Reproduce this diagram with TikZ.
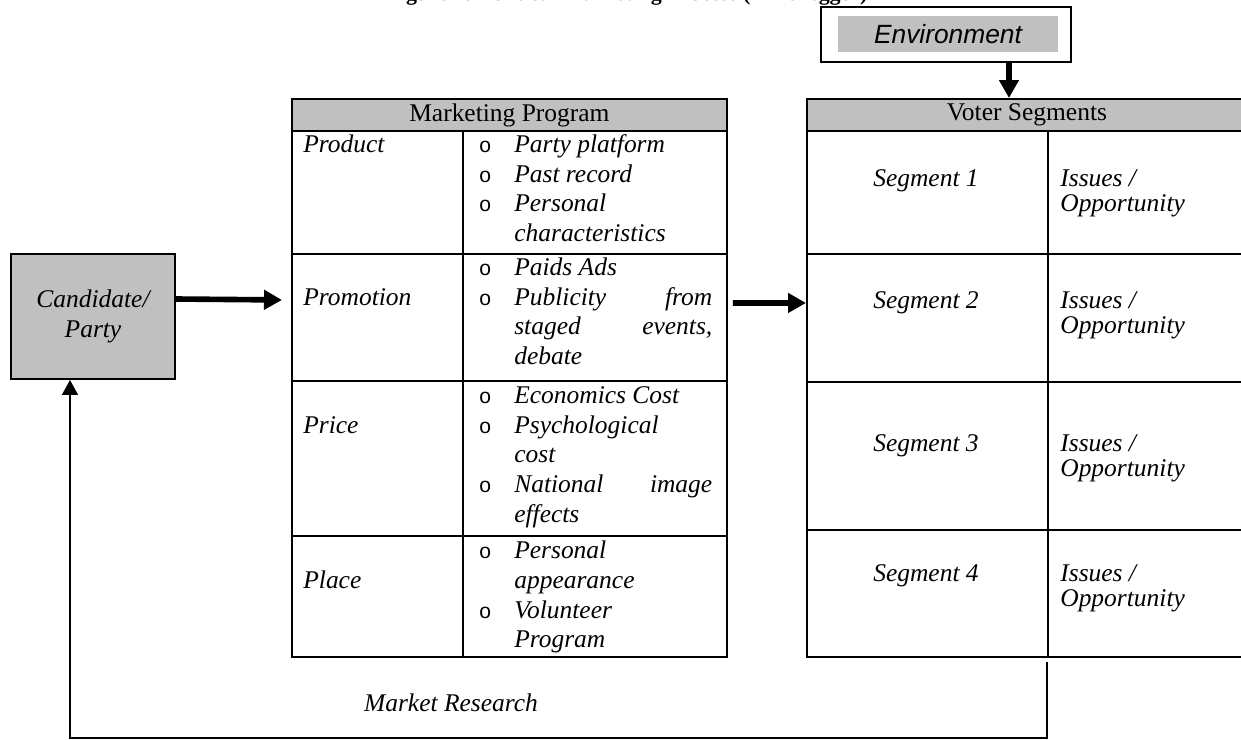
\documentclass[tikz,border=0pt]{standalone}
\usepackage{fontspec}
\setmainfont{Liberation Serif}
\newfontfamily\envfont{Liberation Sans}
\usepackage{array}
\usepackage{xcolor}
\usetikzlibrary{arrows.meta,calc,positioning}
\definecolor{boxgray}{RGB}{192,192,192}
\newcommand{\bul}{{\envfont\fontsize{12}{17}\selectfont o}}
\newcommand{\mprow}[1]{\begin{tabular}{@{}>{\itshape}p{3.52cm}@{}p{0.7cm}@{}>{\itshape}p{3.96cm}@{}}#1\end{tabular}}
\tikzset{
	cell/.style={draw,line width=1.1pt,inner sep=0pt,anchor=north west},
	headcell/.style={cell,fill=boxgray},
	bigarrow/.style={line width=3.2pt,-{Triangle[length=0.36cm,width=0.38cm]}},
	backarrow/.style={line width=0.8pt,-{Triangle[length=0.3cm,width=0.32cm]}}
}
\begin{document}
\fontsize{14.5}{17}\selectfont
\begin{tikzpicture}[x=0.02cm,y=-0.02cm]
	\useasboundingbox (0,0) rectangle (1241,740);
	\node[font=\bfseries\fontsize{12.5}{15}\selectfont,anchor=base] (title) at (627,0.8) {Figure 1: Political Marketing Process (Niffenegger)};
	\node[draw,line width=1.1pt,minimum width=5cm,minimum height=1.1cm] (env) at (946,34.5) {};
	\node[fill=boxgray,minimum width=4.4cm,minimum height=0.68cm,font=\envfont\itshape\fontsize{15}{18}\selectfont] (envlabel) at (948,34) {Environment};
	\node[cell,fill=boxgray,anchor=center,minimum width=3.28cm,minimum height=2.5cm,align=center,font=\itshape] (cand) at (93,316.5) {Candidate/\\Party};
	% marketing program
	\node[headcell,minimum width=8.7cm,minimum height=0.64cm] (mphead) at (291,98) {Marketing Program};
	\foreach \nm/\top/\ht in {prod/130/123,promo/253/127,price/380/155,place/535/121}{
		\node[cell,minimum width=3.42cm,minimum height=\ht*0.02cm] (\nm) at (291,\top) {};
		\node[cell,minimum width=5.28cm,minimum height=\ht*0.02cm] (\nm-it) at (462,\top) {};
	}
	\node[anchor=north west,inner sep=0pt] (prodtxt) at (303,131) {\mprow{Product & \bul & Party platform\\ & \bul & Past record\\ & \bul & Personal\\ & & characteristics}};
	\node[anchor=north west,inner sep=0pt] (promotxt) at (303,254) {\mprow{ & \bul & Paids Ads\\ Promotion & \bul & Publicity\hfill from\\ & & staged\hfill events,\\ & & debate}};
	\node[anchor=north west,inner sep=0pt] (pricetxt) at (303,382) {\mprow{ & \bul & Economics Cost\\ Price & \bul & Psychological\\ & & cost\\ & \bul & National\hfill image\\ & & effects}};
	\node[anchor=north west,inner sep=0pt] (placetxt) at (303,537) {\mprow{ & \bul & Personal\\ Place & & appearance\\ & \bul & Volunteer\\ & & Program}};
	% voter segments
	\node[headcell,minimum width=8.8cm,minimum height=0.64cm] (vshead) at (806,98) {Voter Segments};
	\foreach \i/\top/\ht/\by in {1/130/123/186,2/253/128/308,3/381/148/451,4/529/127/581}{
		\node[cell,minimum width=4.82cm,minimum height=\ht*0.02cm] (seg\i) at (806,\top) {};
		\node[cell,minimum width=3.98cm,minimum height=\ht*0.02cm] (iss\i) at (1047,\top) {};
		\node[anchor=base,font=\itshape] (segtxt\i) at (926,\by) {Segment \i};
		\node[anchor=base west,inner sep=0pt,font=\itshape] (isstxt\i) at (1060,\by) {\begin{tabular}[t]{@{}l@{}}Issues /\\Opportunity\end{tabular}};
	}
	\draw[bigarrow] ([xshift=1.26cm]env.south) -- ([xshift=1.26cm]env.south |- vshead.north);
	\draw[bigarrow] ([yshift=0.35cm]cand.east) -- ([yshift=0.35cm,xshift=-0.18cm]promo.west);
	\draw[bigarrow] ([yshift=0.29cm,xshift=0.1cm]promo-it.east) -- ([yshift=0.3cm]seg2.west);
	\coordinate (fbtop) at ([yshift=-0.08cm]iss4.south west);
	\coordinate (fbcorner) at ([yshift=-1.52cm]fbtop);
	\draw[backarrow] (fbtop) -- (fbcorner) -| ([xshift=-0.46cm]cand.south);
	\node[font=\itshape] (mresearch) at (451,703) {Market Research};
\end{tikzpicture}
\end{document}
